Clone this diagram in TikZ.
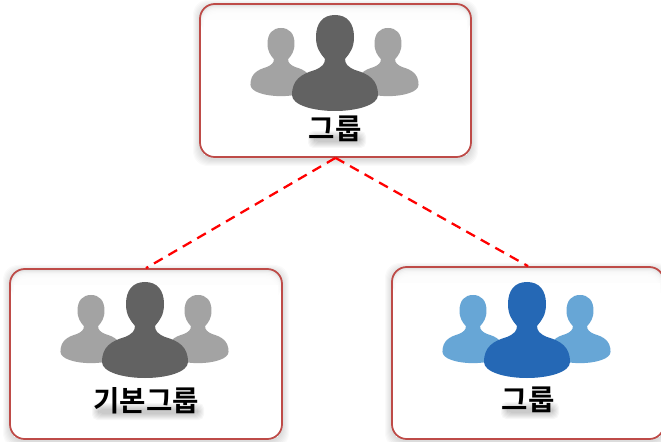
\documentclass[tikz,border=0pt]{standalone}
\usepackage{fontspec}
\setmainfont{Noto Sans CJK KR}[BoldFont={Noto Sans CJK KR Bold}]
\definecolor{boxline}{HTML}{BE4B48}
\definecolor{grayback}{HTML}{A3A3A3}
\definecolor{grayfront}{HTML}{626262}
\definecolor{blueback}{HTML}{67A6D6}
\definecolor{bluefront}{HTML}{2568B5}
\tikzset{
  cardbox/.style={draw=boxline,line width=1.3pt,rounded corners=11pt,inner sep=0pt,minimum width=#1},
  cardfill/.style={rounded corners=11pt},
  linkline/.style={draw=red,line width=1.7pt,dash pattern=on 7.5pt off 5pt},
  cardtext/.style={font=\fontsize{21.5}{24}\selectfont\bfseries,text=black,inner sep=0pt},
  pics/person/.style={code={
    \fill[#1] (0,0) .. controls (12,0) and (19,8) .. (19,22)
      .. controls (19,33) and (15,38) .. (10,44)
      .. controls (10,49) and (13,52) .. (20,55)
      .. controls (34,59) and (43,65) .. (43,80)
      .. controls (43,90) and (22,96) .. (0,96)
      .. controls (-22,96) and (-43,90) .. (-43,80)
      .. controls (-43,65) and (-34,59) .. (-20,55)
      .. controls (-13,52) and (-10,49) .. (-10,44)
      .. controls (-15,38) and (-19,33) .. (-19,22)
      .. controls (-19,8) and (-12,0) .. (0,0) -- cycle;
  }},
  pics/trio/.style n args={2}{code={
    \pic[scale=0.71] at (-54,13) {person=#1};
    \pic[scale=0.71] at (53,13) {person=#1};
    \pic at (0,0) {person=#2};
  }}
}
% centre x, centre y, width, height, node name
\newcommand{\softcard}[5]{%
  \foreach \d in {1,...,7}{
    \fill[black,opacity=0.02,cardfill]
      ({#1-#3/2-\d},{#2-#4/2+3-\d}) rectangle ({#1+#3/2+\d},{#2+#4/2+2+\d});
  }
  \fill[white,cardfill] ({#1-#3/2},{#2-#4/2}) rectangle ({#1+#3/2},{#2+#4/2});
  \fill[black!15,cardfill] ({#1-#3/2},{#2-#4/2}) rectangle ({#1+#3/2},{#2-#4/2+30});
  \foreach \d in {1,...,7}{
    \fill[white,opacity=0.42,cardfill]
      ({#1-#3/2+\d*0.45},{#2-#4/2+\d*1.3}) rectangle ({#1+#3/2-\d*0.45},{#2+#4/2});
  }
  \fill[white] ({#1-#3/2+4},{#2-#4/2+16}) rectangle ({#1+#3/2-4},{#2+#4/2-2});
  \node[cardbox=#3 *0.75pt,minimum height=#4*0.75pt] (#5) at (#1,#2) {};
}
% centre x, centre y, text, node name, text width in px
\newcommand{\softlabel}[5]{%
  \foreach \d in {0,...,6}{
    \fill[black,opacity=0.03,rounded corners=4pt]
      ({#1-#5/2+4-\d},{#2+8-\d}) rectangle ({#1+#5/2+\d},{#2+13+\d});
  }
  \node[cardtext] (#4) at (#1,#2) {#3};
}
\begin{document}
\begin{tikzpicture}[x=0.75pt,y=-0.75pt]
\useasboundingbox (0,0) rectangle (661,442);
\clip (0,0) rectangle (661,442);
\fill[white] (0,0) rectangle (661,442);
\softcard{335.5}{80.5}{271}{153}{topcard}
\softcard{146}{354}{272}{170}{leftcard}
\softcard{528}{353}{272}{172}{rightcard}
\pic at (335,15) {trio={grayback}{grayfront}};
\pic at (145,282) {trio={grayback}{grayfront}};
\pic at (527,282) {trio={blueback}{bluefront}};
\softlabel{335}{129}{그룹}{toplabel}{50}
\softlabel{146}{401}{기본그룹}{leftlabel}{104}
\softlabel{528}{400}{그룹}{rightlabel}{50}
\draw[linkline] (topcard.south) -- (leftcard.north);
\draw[linkline] (topcard.south) -- (rightcard.north);
\end{tikzpicture}
\end{document}
